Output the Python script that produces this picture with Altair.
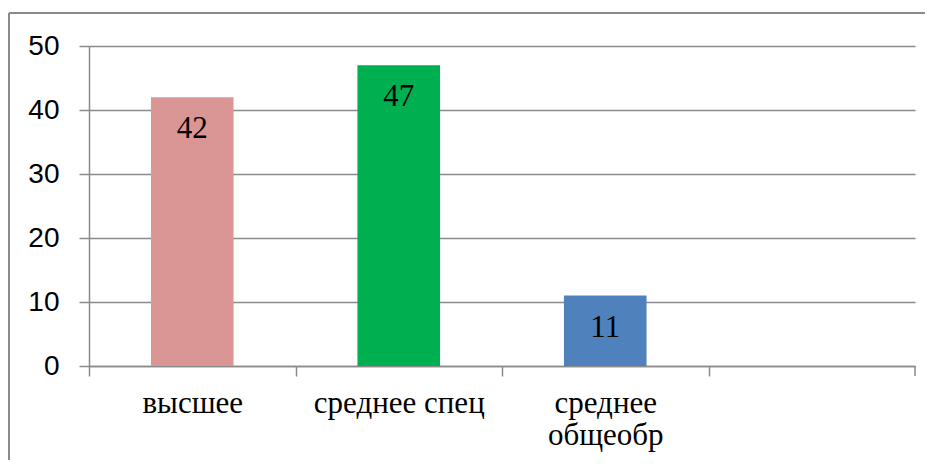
import altair as alt
import pandas as pd

categories = ["высшее", "среднее спец", "среднее общеобр"]
values = [42, 47, 11]
colors = ["#D99694", "#00B050", "#4F81BD"]
x_domain = categories + [" "]
y_ticks = [0, 10, 20, 30, 40, 50]

W, H = 826, 320
GRAY = "#8a8a8a"
STEP = W / len(x_domain)

df = pd.DataFrame({"cat": categories, "val": values, "color": colors})

x_enc = alt.X(
    "cat:N",
    scale=alt.Scale(domain=x_domain, paddingInner=0.6, paddingOuter=0.3),
    axis=alt.Axis(
        title=None, tickOffset=-STEP / 2, labelOffset=STEP / 2, labelAngle=0,
        labelFont="Liberation Serif", labelFontSize=31, labelColor="black",
        labelPadding=12, labelLineHeight=32, labelBaseline="top",
        labelExpr="length(datum.label) > 13 ? split(datum.label, ' ') : datum.label",
        domainColor=GRAY, domainWidth=1.5, tickColor=GRAY, tickSize=10, tickWidth=1.5,
        grid=False, labelOverlap=False,
    ),
)
y_enc = alt.Y(
    "val:Q",
    scale=alt.Scale(domain=[0, 50]),
    axis=alt.Axis(
        title=None, values=y_ticks, labelFont="Liberation Sans", labelFontSize=28,
        labelColor="black", labelPadding=20, tickSize=10, tickColor=GRAY, tickWidth=1.5,
        gridColor=GRAY, gridWidth=1.5, domainColor=GRAY, domainWidth=1.5,
    ),
)

base = alt.Chart(df)
bars = base.mark_bar().encode(x=x_enc, y=y_enc, color=alt.Color("color:N", scale=None))
texts = base.mark_text(font="Liberation Serif", fontSize=31, baseline="alphabetic", dy=41,
                       color="black").encode(x=x_enc, y=y_enc, text="val:Q")

one = pd.DataFrame({"a": [0]})
end_tick = alt.Chart(one).mark_rule(color=GRAY, strokeWidth=1.5).encode(
    x=alt.value(W), y=alt.value(H), y2=alt.value(H + 10))
border_top = alt.Chart(one).mark_rule(color=GRAY, strokeWidth=2).encode(
    x=alt.value(-80), x2=alt.value(W + 10), y=alt.value(-33))
border_left = alt.Chart(one).mark_rule(color=GRAY, strokeWidth=2).encode(
    x=alt.value(-80), y=alt.value(-33), y2=alt.value(H + 94))

chart = alt.layer(bars, texts, end_tick, border_top, border_left).properties(
    width=W, height=H,
    autosize=alt.AutoSizeParams(type="none"),
    padding={"left": 81, "top": 38, "right": 10, "bottom": 94},
).configure_view(stroke=None)

chart.save("out.html", embed_options={"renderer": "svg", "actions": False})
